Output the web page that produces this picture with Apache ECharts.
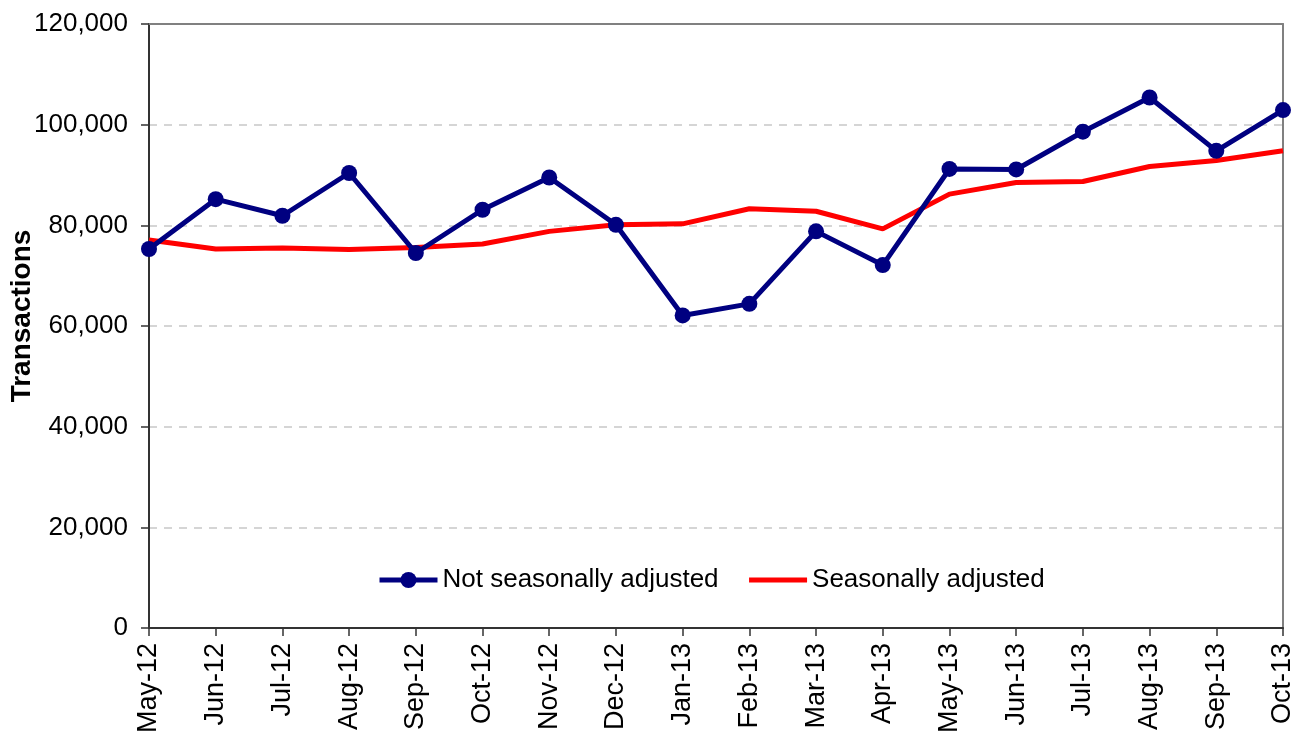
<!DOCTYPE html>
<html>
<head>
<meta charset="utf-8">
<script src="https://cdn.jsdelivr.net/npm/echarts@6/dist/echarts.min.js"></script>
<style>
html,body{margin:0;padding:0;background:#fff;}
#chart{width:1294px;height:731px;}
</style>
</head>
<body>
<div id="chart"></div>
<script>
const categories = ["May-12","Jun-12","Jul-12","Aug-12","Sep-12","Oct-12","Nov-12","Dec-12","Jan-13","Feb-13","Mar-13","Apr-13","May-13","Jun-13","Jul-13","Aug-13","Sep-13","Oct-13"];
const notSeasonallyAdjusted = [75300,85200,81900,90400,74500,83100,89500,80100,62100,64400,78800,72100,91200,91100,98600,105400,94800,102900];
const seasonallyAdjusted = [77100,75300,75500,75200,75600,76300,78800,80100,80300,83300,82800,79300,86200,88500,88700,91700,92900,94800];
const seriesNames = ["Not seasonally adjusted","Seasonally adjusted"];
const yAxisTitle = "Transactions";

const FONT = "'Liberation Sans', Arial, sans-serif";
const chart = echarts.init(document.getElementById('chart'), null, {renderer:'canvas'});
const hiddenAxisBits = {axisTick:{show:false}, axisLabel:{show:false}, splitLine:{show:false}};
chart.setOption({
  animation:false,
  backgroundColor:'#ffffff',
  grid:{left:149, right:11, top:24, bottom:103, containLabel:false, outerBoundsMode:'none', show:false},
  legend:{
    left:372, top:562,
    itemWidth:58, itemHeight:20, itemGap:28,
    lineStyle:{width:5},
    textStyle:{fontFamily:FONT, fontSize:26, color:'#000'},
    data:[
      {name:seriesNames[0]},
      {name:seriesNames[1], itemStyle:{color:'rgba(0,0,0,0)', opacity:0, borderWidth:0}}
    ]
  },
  xAxis:[{
    type:'category', data:categories, boundaryGap:false,
    axisLine:{lineStyle:{color:'#333', width:2}},
    axisTick:{length:8, lineStyle:{color:'#333', width:1.5}},
    axisLabel:{rotate:90, interval:0, margin:15, fontFamily:FONT, fontSize:27, color:'#000', hideOverlap:false},
    splitLine:{show:false}
  },{
    type:'category', data:categories, boundaryGap:false, position:'top',
    axisLine:{show:true, onZero:false, lineStyle:{color:'#808080', width:2}}, ...hiddenAxisBits
  }],
  yAxis:[{
    type:'value', min:0, max:120000, interval:20000,
    name:yAxisTitle, nameLocation:'middle', nameRotate:90, nameGap:113, nameMoveOverlap:false,
    nameTextStyle:{fontFamily:FONT, fontSize:28, fontWeight:'bold', color:'#000', padding:[0,0,0,20]},
    axisLine:{show:true, lineStyle:{color:'#333', width:2}},
    axisTick:{show:true, length:8, lineStyle:{color:'#333', width:1.5}},
    axisLabel:{margin:21, fontFamily:FONT, fontSize:26, color:'#000',
      formatter:v=>v.toLocaleString('en-US')},
    splitLine:{show:true, lineStyle:{color:'#c8c8c8', width:1.5, type:[8,7]}}
  },{
    type:'value', min:0, max:120000, interval:20000, position:'right',
    axisLine:{show:true, onZero:false, lineStyle:{color:'#808080', width:2}}, ...hiddenAxisBits
  }],
  series:[
    {name:seriesNames[0], type:'line', data:notSeasonallyAdjusted, symbol:'circle', symbolSize:16,
     lineStyle:{color:'#000080', width:5}, itemStyle:{color:'#000080'}, z:3},
    {name:seriesNames[1], type:'line', data:seasonallyAdjusted, symbol:'none', showSymbol:false,
     lineStyle:{color:'#ff0000', width:5}, itemStyle:{color:'#ff0000'}, z:2}
  ]
});
</script>
</body>
</html>
